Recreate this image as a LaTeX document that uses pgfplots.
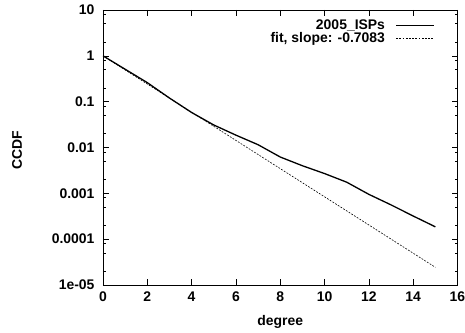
\documentclass[border=0pt]{standalone}
\usepackage{fontspec}
\setmainfont{Liberation Sans}
\usepackage{pgfplots}
\pgfplotsset{compat=1.18}
\usetikzlibrary{calc}
\begin{document}
\begin{tikzpicture}
\begin{axis}[
  name=ax,
  scale only axis,
  width=354.5bp, height=275bp,
  ymode=log,
  xmin=0, xmax=16, ymin=1e-5, ymax=10,
  xtick={0,2,4,6,8,10,12,14,16},
  ytick={1e-5,1e-4,1e-3,1e-2,1e-1,1,10},
  yticklabels={1e-05,0.0001,0.001,0.01,0.1,1,10},
  minor ytick={2e-5,5e-5,8e-5,2e-4,5e-4,8e-4,2e-3,5e-3,8e-3,2e-2,5e-2,8e-2,0.2,0.5,0.8,2,5,8},
  tick align=inside,
  tick pos=both,
  major tick length=6bp,
  minor tick length=3bp,
  every tick/.style={black, line width=0.6bp},
  axis line style={line width=0.8bp},
  /pgf/number format/assume math mode=true,
  tick label style={font=\fontsize{14}{16}\selectfont\bfseries},
  xticklabel style={yshift=-3bp},
  yticklabel style={xshift=-5bp},
  xlabel={degree},
  ylabel={CCDF},
  label style={font=\fontsize{14}{16}\selectfont\bfseries},
  xlabel style={at={(axis description cs:0.5,0)}, anchor=center, yshift=-37bp},
  ylabel style={at={(axis description cs:0,0.5)}, anchor=center, yshift=86bp, xshift=-2.5bp},
  legend style={at={(rel axis cs:1,1)}, anchor=north east, xshift=-19.5bp, yshift=-7bp,
    draw=none, fill=none, font=\fontsize{14}{16}\selectfont\bfseries,
    row sep=0.5bp, column sep=10bp, nodes={inner sep=0.5bp}},
  legend plot pos=right,
  legend cell align=right,
  legend image code/.code={\draw[#1] (0bp,0bp) -- (38bp,0bp);},
]
\addplot[black, line width=1.3bp] coordinates {
(0,1) (1,0.51) (2,0.26) (3,0.12) (4,0.058) (5,0.031) (6,0.0186) (7,0.0115)
(8,0.0062) (9,0.004) (10,0.0027) (11,0.00175) (12,0.00095) (13,0.00056)
(14,0.00032) (15,0.000186)};
\addlegendentry{2005\_ISPs}
\addplot[black, line width=0.6bp, dash pattern=on 1.8bp off 1.4bp] coordinates {
(0,1) (1,0.4925) (2,0.2426) (3,0.1195) (4,0.05885) (5,0.02899) (6,0.01428)
(7,0.007031) (8,0.003463) (9,0.001706) (10,0.0008402) (11,0.0004138)
(12,0.0002038) (13,0.0001004) (14,4.945e-5) (15,2.436e-5)};
\addlegendentry{fit, slope: -0.7083}
\end{axis}
\pgfresetboundingbox
\path[use as bounding box] ($(ax.south west)+(-103bp,-48bp)$) rectangle ($(ax.north east)+(7.5bp,10bp)$);
\end{tikzpicture}
\end{document}
